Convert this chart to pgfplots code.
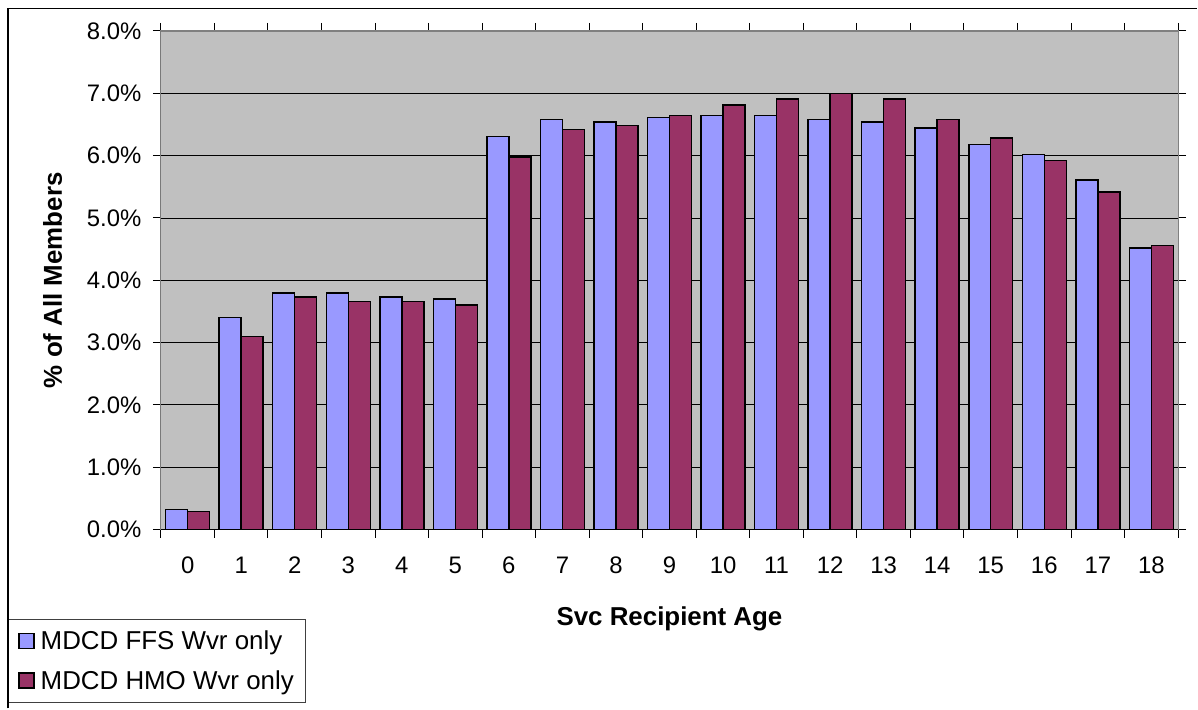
\documentclass[border=0pt]{standalone}
\usepackage{fontspec}
\setmainfont{Liberation Sans}
\usepackage{pgfplots}
\pgfplotsset{compat=1.18}
\definecolor{ffsblue}{HTML}{9999FF}
\definecolor{hmored}{HTML}{993366}
\definecolor{plotgray}{HTML}{C0C0C0}
\definecolor{framegray}{HTML}{808080}

\pgfplotstableread{
age ffs  hmo
0   0.32 0.29
1   3.40 3.10
2   3.80 3.73
3   3.80 3.66
4   3.73 3.66
5   3.70 3.60
6   6.31 5.98
7   6.58 6.42
8   6.54 6.48
9   6.61 6.64
10  6.64 6.81
11  6.64 6.91
12  6.58 7.00
13  6.54 6.91
14  6.44 6.58
15  6.18 6.28
16  6.02 5.92
17  5.61 5.42
18  4.52 4.56
}\agedata

\begin{document}
\begin{tikzpicture}
\fill[white] (0bp,0bp) rectangle (1198bp,709bp);
\begin{axis}[
  at={(161bp,179bp)}, anchor=south west,
  width=1018bp, height=499bp, scale only axis,
  ybar, ybar=0pt, bar width=22bp,
  xmin=-0.5, xmax=18.5, ymin=0, ymax=8,
  xtick={0,...,18},
  xticklabels={0,1,2,3,4,5,6,7,8,9,10,11,12,13,14,15,16,17,18},
  minor xtick={-0.5,0.5,...,18.5},
  ytick={0,...,8},
  yticklabels={0.0\%,1.0\%,2.0\%,3.0\%,4.0\%,5.0\%,6.0\%,7.0\%,8.0\%},
  tick align=outside,
  major tick length=8bp, minor tick length=8bp,
  major x tick style={draw=none},
  every tick/.style={black, line width=1bp},
  ymajorgrids,
  major grid style={black, line width=0.9bp},
  axis background/.style={fill=plotgray},
  axis line style={framegray, line width=1.2bp},
  tick label style={font=\fontsize{24}{28}\selectfont},
  yticklabel style={xshift=-8bp},
  xticklabel style={yshift=-16bp},
  xlabel={Svc Recipient Age},
  ylabel={\% of All Members},
  label style={font=\fontsize{26}{30}\selectfont\bfseries},
  xlabel style={at={(axis description cs:0.5,-0.1924)}, anchor=base},
  ylabel style={at={(axis description cs:-0.0973,0.5)}, anchor=base},
  legend style={at={(axis description cs:-0.1503,-0.1784)}, anchor=north west,
    draw=black!75, line width=1bp, fill=white,
    font=\fontsize{26}{30}\selectfont,
    inner xsep=10bp, inner ysep=10bp, row sep=15bp,
    legend cell align=left},
  sqlegend/.style={legend image code/.code={
      \draw[##1, line width=1.5bp] (0bp,-7.5bp) rectangle (15bp,7.5bp);
      \path[draw=none, fill=none] (0bp,0bp) -- (19.5bp,0bp);}},
]
\addplot[fill=ffsblue, draw=black, line width=1.5bp, sqlegend] table[x=age, y=ffs] {\agedata};
\addplot[fill=hmored, draw=black, line width=1.5bp, sqlegend] table[x=age, y=hmo] {\agedata};
\legend{MDCD FFS Wvr only, MDCD HMO Wvr only}
\draw[black, line width=1.3bp] (rel axis cs:0,0) -- (rel axis cs:1,0);
\draw[black!70, line width=1.2bp] (rel axis cs:0,0) -- (rel axis cs:0,1);
\end{axis}
% chart area frame (open towards the right and bottom edges)
\draw[line width=1.8bp, black] (8bp,0bp) -- (8bp,700.5bp) -- (1198bp,700.5bp);
\end{tikzpicture}
\end{document}
